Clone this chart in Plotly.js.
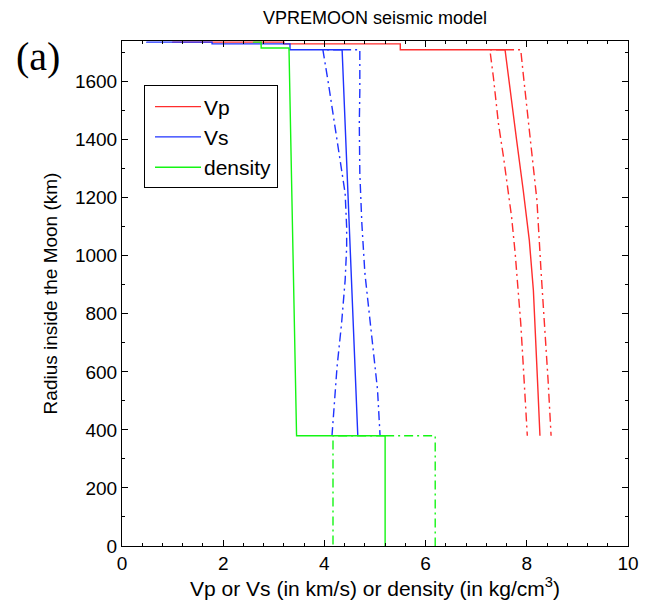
<!DOCTYPE html>
<html>
<head>
<meta charset="utf-8">
<script src="https://cdn.plot.ly/plotly-3.0.1.min.js"></script>
<style>html,body{margin:0;padding:0;background:#fff;}#chart{width:656px;height:604px;}</style>
</head>
<body>
<div id="chart"></div>
<script>
// Vp (km/s): crust steps + mantle profile
const vpVal = [1.0, 1.0, 3.2, 3.2, 5.5, 5.5, 7.57, 7.67, 7.80, 7.93, 8.05, 8.13, 8.18, 8.22, 8.26];
const vpRad = [1737.1, 1736, 1736, 1730, 1730, 1710, 1710, 1569, 1397, 1225, 1053, 881, 710, 538, 380];
const vpLowVal = [7.57, 7.27, 7.34, 7.44, 7.54, 7.63, 7.70, 7.77, 7.83, 7.88, 7.92, 7.96, 8.00, 8.01];
const vpLowRad = [1710, 1710, 1615, 1455, 1340, 1225, 1133, 1009, 881, 768, 652, 535, 424, 380];
const vpUpVal = [7.57, 7.88, 7.93, 8.00, 8.06, 8.13, 8.20, 8.28, 8.36, 8.42, 8.48];
const vpUpRad = [1710, 1710, 1626, 1511, 1397, 1305, 1191, 951, 744, 573, 380];

// Vs (km/s)
const vsVal = [0.49, 0.49, 1.78, 1.78, 3.32, 3.32, 4.35, 4.50, 4.66];
const vsRad = [1737.1, 1736, 1736, 1730, 1730, 1710, 1710, 1053, 380];
const vsLowVal = [4.35, 3.97, 4.08, 4.18, 4.31, 4.41, 4.44, 4.44, 4.41, 4.34, 4.25, 4.18, 4.15];
const vsLowRad = [1710, 1710, 1593, 1476, 1339, 1215, 1098, 1030, 916, 768, 617, 469, 380];
const vsUpVal = [4.35, 4.70, 4.70, 4.69, 4.70, 4.74, 4.80, 4.90, 4.98, 5.05, 5.10];
const vsUpRad = [1710, 1710, 1568, 1455, 1284, 1112, 940, 768, 651, 538, 380];

// density (kg/cm3)
const rhoVal = [2.6, 2.6, 2.75, 2.75, 3.30, 3.45, 3.45, 5.2, 5.2];
const rhoRad = [1737.1, 1736, 1736, 1716, 1716, 380, 380, 380, 0];
const rhoLowVal = [5.2, 4.17, 4.17];
const rhoLowRad = [380, 380, 0];
const rhoUpVal = [5.2, 6.19, 6.19];
const rhoUpRad = [380, 380, 0];

const xTicks = [0, 2, 4, 6, 8, 10];
const yTicks = [0, 200, 400, 600, 800, 1000, 1200, 1400, 1600];

const RED = 'rgb(255,45,45)', BLUE = 'rgb(30,50,255)', GREEN = 'rgb(20,245,20)';
const DD = '9px,4px,2px,4px';
function tr(x, y, color, dash, name, show, group) {
  return {x: x, y: y, type: 'scatter', mode: 'lines', name: name || '',
    showlegend: !!show, legendgroup: group, hoverinfo: 'skip',
    line: {color: color, width: 1.4, dash: dash || 'solid'}};
}
const data = [
  tr(vpLowVal, vpLowRad, RED, DD, '', false, 'g1'),
  tr(vpUpVal, vpUpRad, RED, DD, '', false, 'g1'),
  tr(vpVal, vpRad, RED, 'solid', 'Vp', true, 'g1'),
  tr(vsLowVal, vsLowRad, BLUE, DD, '', false, 'g2'),
  tr(vsUpVal, vsUpRad, BLUE, DD, '', false, 'g2'),
  tr(vsVal, vsRad, BLUE, 'solid', 'Vs', true, 'g2'),
  tr(rhoLowVal, rhoLowRad, GREEN, DD, '', false, 'g3'),
  tr(rhoUpVal, rhoUpRad, GREEN, DD, '', false, 'g3'),
  tr(rhoVal, rhoRad, GREEN, 'solid', 'density', true, 'g3')
];
const FONT = 'Liberation Sans, Arial, sans-serif';
const layout = {
  width: 656, height: 604,
  margin: {l: 122, r: 28, t: 41, b: 58},
  paper_bgcolor: '#fff', plot_bgcolor: '#fff',
  font: {family: FONT, size: 19, color: '#000'},
  title: {text: 'VPREMOON seismic model', x: 0.5, xref: 'paper', y: 1 - 18/604, yref: 'container', yanchor: 'middle', font: {family: FONT, size: 18, color: '#000'}},
  xaxis: {range: [0, 10], tickvals: xTicks, ticktext: xTicks.map(String), ticks: 'inside', ticklen: 6, tickcolor: '#000',
    showline: true, linecolor: '#000', linewidth: 1, mirror: 'ticks', showgrid: false, zeroline: false,
    minor: {dtick: 0.4, tick0: 0, ticks: 'inside', ticklen: 3, tickcolor: '#000', showgrid: false},
    tickfont: {family: FONT, size: 19}, automargin: false,
    title: {text: 'Vp or Vs (in km/s) or density (in kg/cm<sup>3</sup>)', standoff: 0, font: {family: FONT, size: 21}}},
  yaxis: {range: [0, 1740], tickvals: yTicks, ticktext: yTicks.map(String), ticks: 'inside', ticklen: 6, tickcolor: '#000',
    showline: true, linecolor: '#000', linewidth: 1, mirror: 'ticks', showgrid: false, zeroline: false,
    minor: {dtick: 100, tick0: 0, ticks: 'inside', ticklen: 3, tickcolor: '#000', showgrid: false},
    tickfont: {family: FONT, size: 19}, automargin: false,
    title: {text: 'Radius inside the Moon (km)', standoff: 12, font: {family: FONT, size: 19}}},
  legend: {x: 0.0435, y: 0.912, xanchor: 'left', yanchor: 'top', bgcolor: '#fff', bordercolor: '#000', borderwidth: 1,
    font: {family: FONT, size: 21, color: '#000'}, tracegroupgap: 5, traceorder: 'normal', itemwidth: 49},
  annotations: [{text: '(a)', xref: 'paper', yref: 'paper', x: -0.166, y: 0.97, xanchor: 'center', yanchor: 'middle',
    showarrow: false, font: {family: 'Liberation Serif, DejaVu Serif, serif', size: 40, color: '#000'}}]
};
Plotly.newPlot('chart', data, layout, {displayModeBar: false, staticPlot: true}).then(function () {
  // lengthen the legend line samples to match the reference
  document.querySelectorAll('#chart .legend .legendlines path').forEach(function (p) {
    p.setAttribute('d', 'M10,0h46');
  });
});
</script>
</body>
</html>
